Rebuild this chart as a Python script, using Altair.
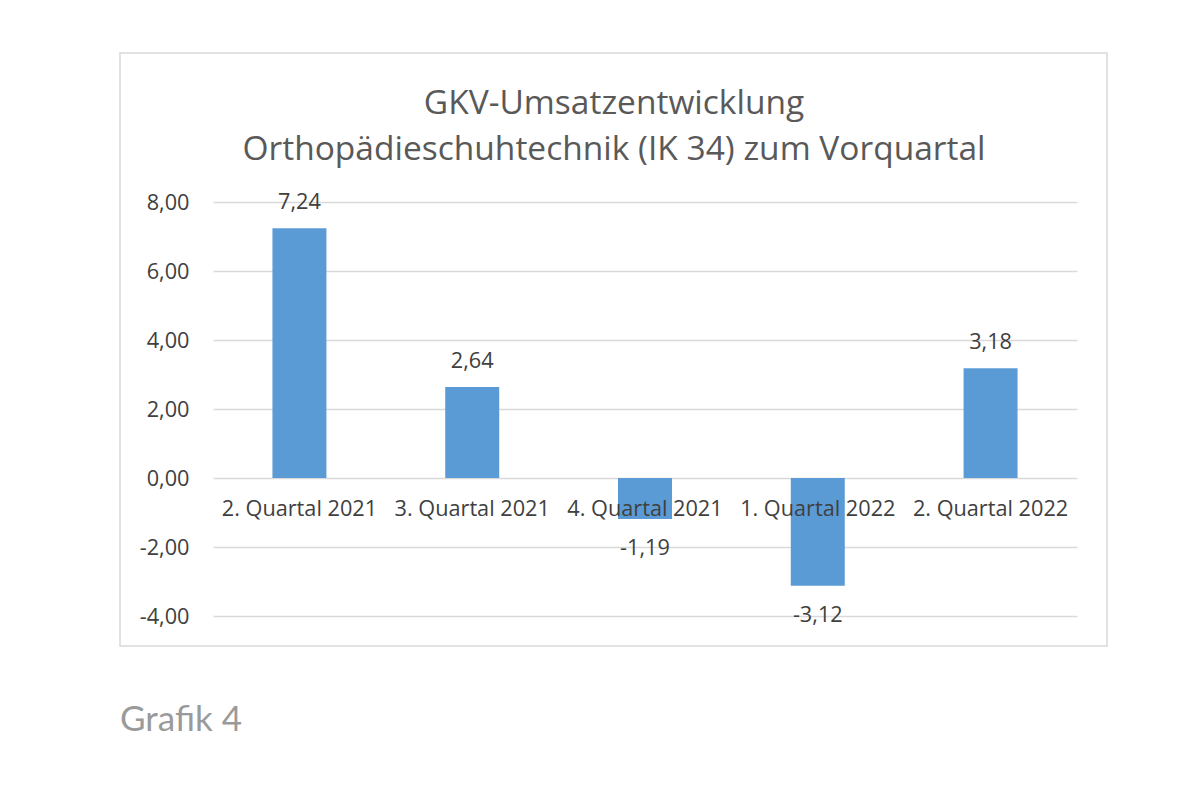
import pandas as pd
import altair as alt

# Quartale und Umsatzveränderung zum Vorquartal in %
quartale = ["2. Quartal 2021", "3. Quartal 2021", "4. Quartal 2021",
            "1. Quartal 2022", "2. Quartal 2022"]
werte = [7.24, 2.64, -1.19, -3.12, 3.18]
y_ticks = [-4, -2, 0, 2, 4, 6, 8]

df = pd.DataFrame({"quartal": quartale, "wert": werte})

FONT = "Open Sans"
x_enc = alt.X("quartal:N", sort=quartale, axis=None,
              scale=alt.Scale(paddingInner=0.6875, paddingOuter=0.344))
y_scale = alt.Scale(domain=[-4, 8], nice=False)

base = alt.Chart(df)

# outer frame around the chart (decoration only)
frame = base.mark_rect(fill="white", fillOpacity=0, stroke="#d9d9d9",
                       strokeWidth=1.5).encode(
    x=alt.value(-93), x2=alt.value(894), y=alt.value(-149), y2=alt.value(444)
).transform_filter(alt.datum.quartal == quartale[0])

bars = base.mark_bar(color="#5b9bd5").encode(
    x=x_enc,
    y=alt.Y("wert:Q", scale=y_scale, title=None,
            axis=alt.Axis(values=y_ticks, format=".2f", domain=False, ticks=False,
                          labelPadding=24, labelFontSize=21.7, labelFont=FONT,
                          labelColor="#404040", gridColor="#d9d9d9", gridWidth=1.3)),
    y2=alt.datum(0),
)

pos_labels = base.transform_filter(alt.datum.wert >= 0).mark_text(
    dy=-26, fontSize=21.7, font=FONT, color="#404040"
).encode(x=x_enc, y=alt.Y("wert:Q", scale=y_scale),
         text=alt.Text("wert:Q", format=".2f"))

neg_labels = base.transform_filter(alt.datum.wert < 0).mark_text(
    dy=29, fontSize=21.7, font=FONT, color="#404040"
).encode(x=x_enc, y=alt.Y("wert:Q", scale=y_scale),
         text=alt.Text("wert:Q", format=".2f"))

cat_labels = base.mark_text(dy=31, fontSize=21.7, font=FONT, color="#404040").encode(
    x=x_enc, y=alt.datum(0), text="quartal:N"
)

caption = base.transform_filter(alt.datum.quartal == quartale[0]).mark_text(
    text="Grafik 4", align="left", baseline="middle", font="Lato",
    fontSize=35, color="#9a9a9a"
).encode(x=alt.value(-93), y=alt.value(518))

chart = alt.layer(frame, bars, pos_labels, neg_labels, cat_labels, caption).properties(
    width=864,
    height=414,
    autosize=alt.AutoSizeParams(type="none"),
    padding={"left": 205, "top": 194, "right": 110, "bottom": 170},
    title=alt.TitleParams(
        ["GKV-Umsatzentwicklung", "Orthopädieschuhtechnik (IK 34) zum Vorquartal"],
        font=FONT, fontSize=33.5, fontWeight="normal", color="#595959",
        lineHeight=46, anchor="middle", dx=-31, offset=-115
    ),
).configure(
    background="white",
    locale={"number": {"decimal": ",", "thousands": ".", "grouping": [3],
                       "currency": ["", " €"], "minus": "-"}},
).configure_view(stroke=None)

chart.save("out.html", embed_options={"renderer": "svg", "actions": False})
